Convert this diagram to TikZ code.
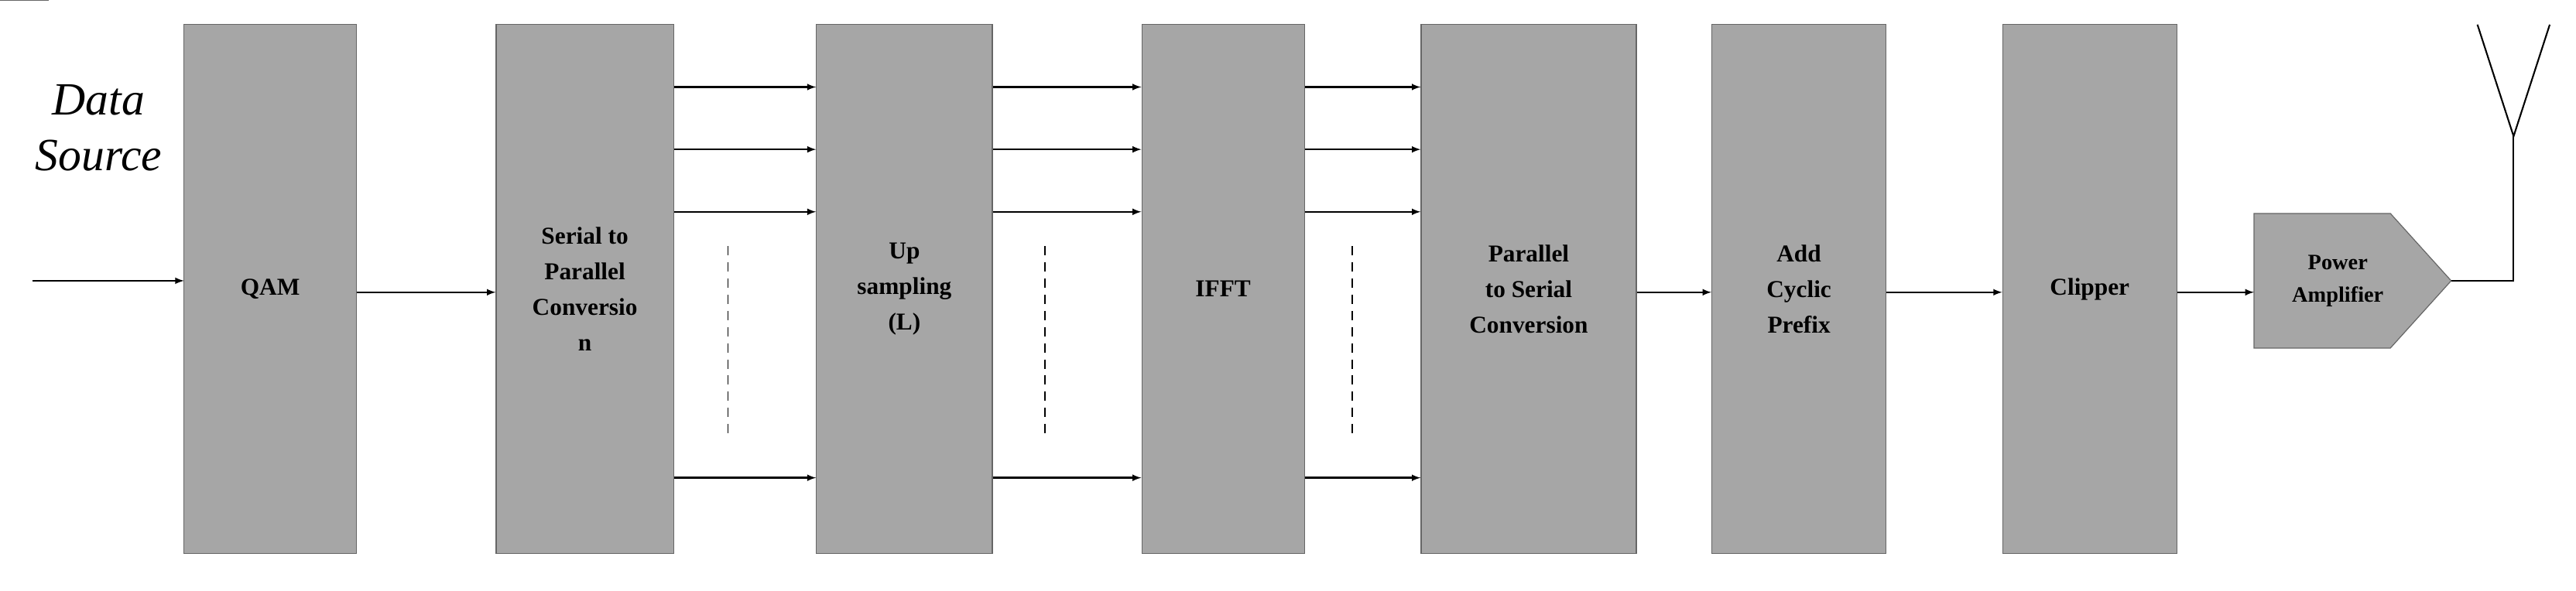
\documentclass[tikz,border=0pt]{standalone}
\usepackage{fontspec}
\setmainfont{Liberation Serif}
\newfontfamily\dsfont{DejaVu Serif}
\begin{document}
\begin{tikzpicture}[x=0.5mm,y=-0.5mm,
  blk/.style={draw=gray!80!black,fill=gray!70,line width=0.8pt,inner sep=0pt,font=\fontsize{21}{31}\selectfont\bfseries,align=center},
  arr/.style={-latex,line width=1.6pt,shorten >=0pt},
  dsh/.style={dashed,line width=1pt,dash pattern=on 8pt off 6pt}]
\useasboundingbox (0,0) rectangle (1568,359.5);
\node[font=\fontsize{40}{48}\selectfont\itshape,align=center] (ds) at (60,78) {Data\\Source};
\node[blk,minimum width=105\pgflinewidth] at (0,0) {};
\node[blk,minimum width=52.5mm,minimum height=161mm] (qam) at (164.5,176) {QAM};
\node[blk,minimum width=54mm,minimum height=161mm] (sp) at (356,176) {Serial to\\Parallel\\Conversio\\n};
\node[blk,minimum width=53.5mm,minimum height=161mm] (up) at (550.5,176) {Up\\sampling\\(L)};
\node[blk,minimum width=49.5mm,minimum height=161mm] (ifft) at (744.5,176) {IFFT};
\node[blk,minimum width=65.5mm,minimum height=161mm] (ps) at (930.5,176) {Parallel\\to Serial\\Conversion};
\node[blk,minimum width=53mm,minimum height=161mm] (acp) at (1095,176) {Add\\Cyclic\\Prefix};
\node[blk,minimum width=53mm,minimum height=161mm] (clip) at (1272,176) {Clipper};
\fill[gray!70,draw=gray!80!black,line width=0.8pt] (1372,130) -- (1455,130) -- (1492,171) -- (1455,212) -- (1372,212) -- cycle;
\node[font=\fontsize{19}{28}\selectfont\bfseries,align=center] (pa) at (1423,171) {Power\\Amplifier};
\coordinate (in) at (20,171);
\draw[arr] (in) -- (112,171);
\draw[arr] (qam.east |- 0,178) -- (sp.west |- 0,178);
\foreach \y in {53,91,129,291}{
  \draw[arr] (sp.east |- 0,\y) -- (up.west |- 0,\y);
  \draw[arr] (up.east |- 0,\y) -- (ifft.west |- 0,\y);
  \draw[arr] (ifft.east |- 0,\y) -- (ps.west |- 0,\y);
}
\foreach \x in {443,636,823} \draw[dsh] (\x,150) -- (\x,265);
\draw[arr] (ps.east |- 0,178) -- (acp.west |- 0,178);
\draw[arr] (acp.east |- 0,178) -- (clip.west |- 0,178);
\draw[arr] (clip.east |- 0,178) -- (1372,178);
\coordinate (ant) at (1530,83);
\draw[line width=1.4pt] (1492,171) -- (1530,171) -- (ant);
\draw[line width=1.4pt] (1508,15) -- (ant) -- (1552,15);
\end{tikzpicture}
\end{document}
